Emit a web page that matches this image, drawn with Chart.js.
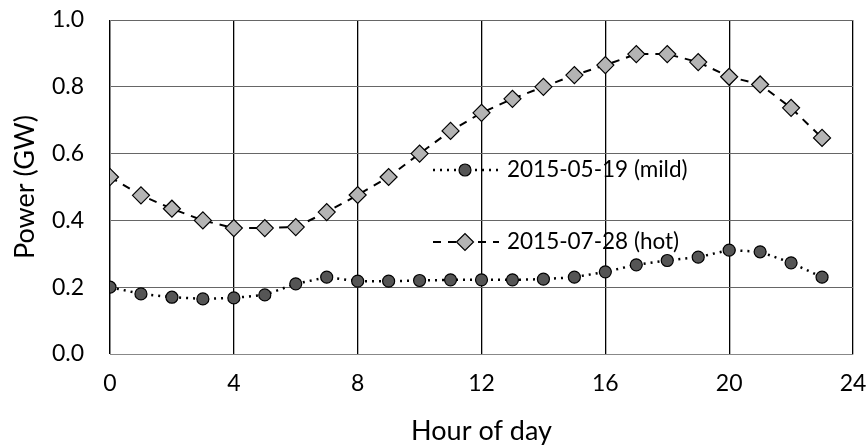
<!DOCTYPE html>
<html><head><meta charset="utf-8">
<script src="https://cdn.jsdelivr.net/npm/chart.js@4"></script>
<style>html,body{margin:0;padding:0;background:#fff}#wrap{width:868px;height:447px}</style>
</head><body><div id="wrap"><canvas id="c"></canvas></div>
<script>
const hours = [0,1,2,3,4,5,6,7,8,9,10,11,12,13,14,15,16,17,18,19,20,21,22,23];
const mildValues = [0.20,0.18,0.17,0.165,0.168,0.177,0.21,0.23,0.218,0.218,0.22,0.222,0.222,0.222,0.224,0.23,0.246,0.267,0.28,0.29,0.311,0.306,0.273,0.23];
const hotValues = [0.53,0.475,0.435,0.40,0.377,0.377,0.38,0.425,0.476,0.53,0.60,0.668,0.722,0.764,0.80,0.835,0.865,0.898,0.898,0.874,0.83,0.807,0.737,0.647];
const mildLabel = '2015-05-19 (mild)';
const hotLabel = '2015-07-28 (hot)';
const xTitle = 'Hour of day';
const yTitle = 'Power (GW)';
const FONT = 'Lato, "Liberation Sans", sans-serif';

function pts(vals){ return vals.map((v,i)=>({x:hours[i], y:v})); }

const legendPlugin = {
  id:'inlineLegend',
  afterDatasetsDraw(chart){
    const ctx = chart.ctx, a = chart.chartArea;
    const items = [
      {ds:0, y: a.top + 150},
      {ds:1, y: a.top + 222}
    ];
    items.forEach(it=>{
      const ds = chart.data.datasets[it.ds];
      const x0 = a.left + 323, x1 = a.left + 389, xm = a.left + 355;
      ctx.save();
      ctx.strokeStyle = ds.borderColor; ctx.lineWidth = ds.borderWidth;
      ctx.setLineDash(ds.borderDash);
      ctx.beginPath(); ctx.moveTo(x0,it.y); ctx.lineTo(x1,it.y); ctx.stroke();
      ctx.setLineDash([]);
      ctx.fillStyle = ds.pointBackgroundColor; ctx.strokeStyle = '#000'; ctx.lineWidth = 1.2;
      Chart.helpers.drawPoint(ctx, {pointStyle: ds.pointStyle, radius: ds.pointRadius, borderWidth:1.2}, xm, it.y);
      ctx.fillStyle = '#000'; ctx.font = '22.5px ' + FONT; ctx.textBaseline='middle'; ctx.textAlign='left';
      ctx.fillText(ds.label, a.left + 397, it.y);
      ctx.restore();
    });
  }
};

new Chart(document.getElementById('c'), {
  type:'line',
  data:{ datasets:[
    { label: mildLabel, data: pts(mildValues), borderColor:'#000', borderWidth:2.5, borderDash:[2,5],
      pointStyle:'circle', pointRadius:6, pointBackgroundColor:'#555', pointBorderColor:'#000', pointBorderWidth:1.2, tension:0 },
    { label: hotLabel, data: pts(hotValues), borderColor:'#000', borderWidth:2, borderDash:[8,7],
      pointStyle:'rectRot', pointRadius:8.5, pointBackgroundColor:'#b4b4b4', pointBorderColor:'#000', pointBorderWidth:1.2, tension:0 }
  ]},
  plugins:[legendPlugin],
  options:{
    responsive:true, maintainAspectRatio:false, animation:false,
    layout:{ padding:{ top:20, right:15, left:0, bottom:0 } },
    plugins:{ legend:{display:false}, tooltip:{enabled:false} },
    scales:{
      x:{ type:'linear', min:0, max:24,
        ticks:{ stepSize:4, color:'#000', font:{family:FONT, size:23}, padding:16 },
        grid:{ color:'#000', lineWidth:1.3, drawTicks:false },
        border:{ color:'#888', width:1 },
        title:{ display:true, text:xTitle, color:'#000', font:{family:FONT, size:27}, padding:{top:0, bottom:0} },
        afterFit(s){ s.height = 93; s.paddingLeft = 0; s.paddingRight = 0; }
      },
      y:{ min:0, max:1,
        ticks:{ stepSize:0.2, color:'#000', font:{family:FONT, size:23}, padding:26, callback:v=>v.toFixed(1) },
        grid:{ color:'#666', lineWidth:1, drawTicks:false },
        border:{ color:'#888', width:1 },
        title:{ display:true, text:yTitle, color:'#000', font:{family:FONT, size:27}, padding:{top:9, bottom:0} },
        afterFit(s){ s.width = 110; s.paddingTop = 0; s.paddingBottom = 0; }
      }
    }
  }
});
</script></body></html>
